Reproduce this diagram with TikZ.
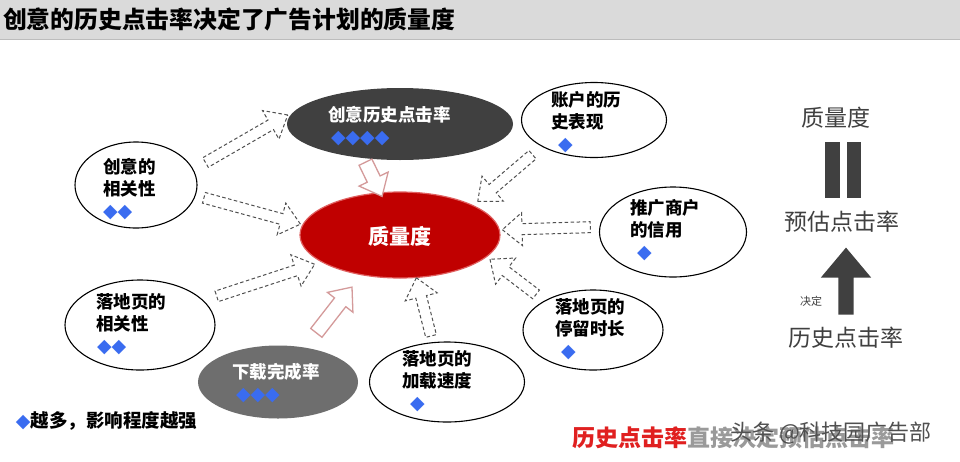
\documentclass[tikz,border=0pt]{standalone}
\usepackage{fontspec}
\setmainfont{Noto Sans CJK SC}
\newfontfamily\symfont{DejaVu Sans}
\usetikzlibrary{shapes.geometric,shapes.arrows}

\definecolor{cdadada}{RGB}{218,218,218}
\definecolor{cbcbcbc}{RGB}{188,188,188}
\definecolor{cc00000}{RGB}{192,0,0}
\definecolor{ce06060}{RGB}{224,96,96}
\definecolor{c404040}{RGB}{64,64,64}
\definecolor{c6e6e6e}{RGB}{110,110,110}
\definecolor{c3a6cf0}{RGB}{58,108,240}
\definecolor{cd49a9a}{RGB}{212,154,154}
\definecolor{c505050}{RGB}{80,80,80}
\definecolor{ce02020}{RGB}{224,32,32}
\definecolor{c9a9a9a}{RGB}{154,154,154}

\newcommand{\dmd}{{\symfont\fontsize{19}{19}\selectfont\color{c3a6cf0}◆}}

\begin{document}
\begin{tikzpicture}[x=1pt, y={(0pt,-1pt)}, inner sep=0pt, outer sep=0pt,
  bubble/.style={ellipse, draw=black, line width=1.1pt, fill=white},
  darkbubble/.style={ellipse, fill=c404040},
  txt/.style={align=left, anchor=north west, font=\bfseries\fontsize{17.5}{22}\selectfont},
  flowarrow/.style={single arrow, draw=c505050, line width=1pt,
    dash pattern=on 3.5pt off 2.5pt, fill=white, inner sep=5pt,
    single arrow head extend=11pt, single arrow tip angle=80,
    sloped, allow upside down},
  pinkarrow/.style={single arrow, draw=cd49a9a, line width=1.3pt, fill=white,
    inner sep=6.5pt, single arrow head extend=9pt, single arrow tip angle=80,
    sloped, allow upside down},
  bigarrow/.style={single arrow, fill=c404040, inner sep=7.5pt,
    single arrow head extend=17.5pt, single arrow tip angle=80,
    sloped, allow upside down},
  rtxt/.style={font=\fontsize{23}{23}\selectfont, text=c404040}]
\useasboundingbox (0,0) rectangle (960,461);
\fill[white] (0,0) rectangle (960,461);

\begin{scope}% header
  \fill[cdadada] (0,0) rectangle (960,40);
  \draw[cbcbcbc, line width=1.5pt] (0,39.5) -- (960,39.5);
  \node[anchor=west, font=\bfseries\fontsize{23.8}{23.8}\selectfont] (title) at (3,19)
    {创意的历史点击率决定了广告计划的质量度};
\end{scope}

\begin{scope}% bubbles
  \node[ellipse, fill=cc00000, draw=ce06060, line width=1.2pt,
    minimum width=200pt, minimum height=86pt] (ctr) at (400,235) {};
  \node[darkbubble, minimum width=226pt, minimum height=72pt] (hist) at (400,124) {};
  \node[darkbubble, fill=c6e6e6e, minimum width=160pt, minimum height=73pt] (dl) at (278,382) {};
  \node[bubble, minimum width=122pt, minimum height=86pt] (crel) at (136,185) {};
  \node[bubble, minimum width=145pt, minimum height=75pt] (acct) at (594,120) {};
  \node[bubble, minimum width=147pt, minimum height=90pt] (cred) at (673,232) {};
  \node[bubble, minimum width=140pt, minimum height=80pt] (stay) at (593,330) {};
  \node[bubble, minimum width=155pt, minimum height=80pt] (load) at (447,382) {};
  \node[bubble, minimum width=150pt, minimum height=90pt] (lrel) at (140,325) {};
\end{scope}

\begin{scope}% labels
  \node[font=\bfseries\fontsize{21}{21}\selectfont, text=white] (ctr-t) at (400,236) {质量度};
  \node[txt, text=white] (hist-t) at (328,106) {创意历史点击率\\\hspace{3pt}\dmd\dmd\dmd\dmd};
  \node[txt, text=white] (dl-t) at (232,363) {下载完成率\\\hspace{4pt}\dmd\dmd\dmd};
  \node[txt] (crel-t) at (103,158) {创意的\\相关性\\\dmd\dmd};
  \node[txt] (acct-t) at (551,91) {账户的历\\史表现\\\hspace{7pt}\dmd};
  \node[txt] (cred-t) at (630,199) {推广商户\\的信用\\\hspace{7pt}\dmd};
  \node[txt] (stay-t) at (555,299) {落地页的\\停留时长\\\hspace{6pt}\dmd};
  \node[txt] (load-t) at (402,351) {落地页的\\加载速度\\\hspace{8pt}\dmd};
  \node[txt] (lrel-t) at (96,294) {落地页的\\相关性\\\hspace{1pt}\dmd\dmd};
\end{scope}

\begin{scope}% arrows
  \path (crel.15) -- (hist.173) node[midway, flowarrow, minimum height=95pt] (a1) {};
  \path (crel.-10) -- (ctr.174) node[midway, flowarrow, minimum height=100pt] (a2) {};
  \path (lrel.21) -- (ctr.199) node[midway, flowarrow, minimum height=103pt] (a3) {};
  \path (load.110) -- (ctr.291) node[midway, flowarrow, minimum height=60pt] (a4) {};
  \path (stay.149) -- (ctr.346) node[midway, flowarrow, minimum height=58pt] (a5) {};
  \path (cred.176) -- (ctr.3) node[midway, flowarrow, minimum height=88pt] (a6) {};
  \path (acct.207) -- (ctr.22) node[midway, flowarrow, minimum height=72pt] (a7) {};
  \path (hist.223) -- (ctr.115) node[midway, pinkarrow, minimum height=38pt] (p1) {};
  \path (dl.52) -- (ctr.226) node[pos=.47, pinkarrow, minimum height=58pt] (p2) {};
\end{scope}

\begin{scope}% right panel
  \node[rtxt] (rq) at (836,118) {质量度};
  \fill[c404040] (825,142) rectangle (840,198);
  \fill[c404040] (847,142) rectangle (861,198);
  \node[rtxt] (rpred) at (842,222) {预估点击率};
  \node[rtxt] (rhist) at (846,338) {历史点击率};
  \path (rhist.north) -- (rhist.north |- rpred.south)
    node[pos=.44, bigarrow, minimum height=67pt] (rup) {};
  \node[font=\fontsize{11}{11}\selectfont, text=c404040] (rdec) at (811,301) {决定};
\end{scope}

\begin{scope}% footer
  \node[anchor=west, font=\bfseries\fontsize{18.5}{18.5}\selectfont] (legend) at (16,421)
    {\dmd 越多，影响程度越强};
  \node[anchor=west, font=\bfseries\fontsize{23}{23}\selectfont] (note) at (572,438)
    {\textcolor{ce02020}{历史点击率}\textcolor{c9a9a9a}{直接决定预估点击率}};
  \node[font=\fontsize{22}{22}\selectfont, text=c505050] (wm) at (831,433)
    {头条 @科技园广告部};
\end{scope}
\end{tikzpicture}
\end{document}
